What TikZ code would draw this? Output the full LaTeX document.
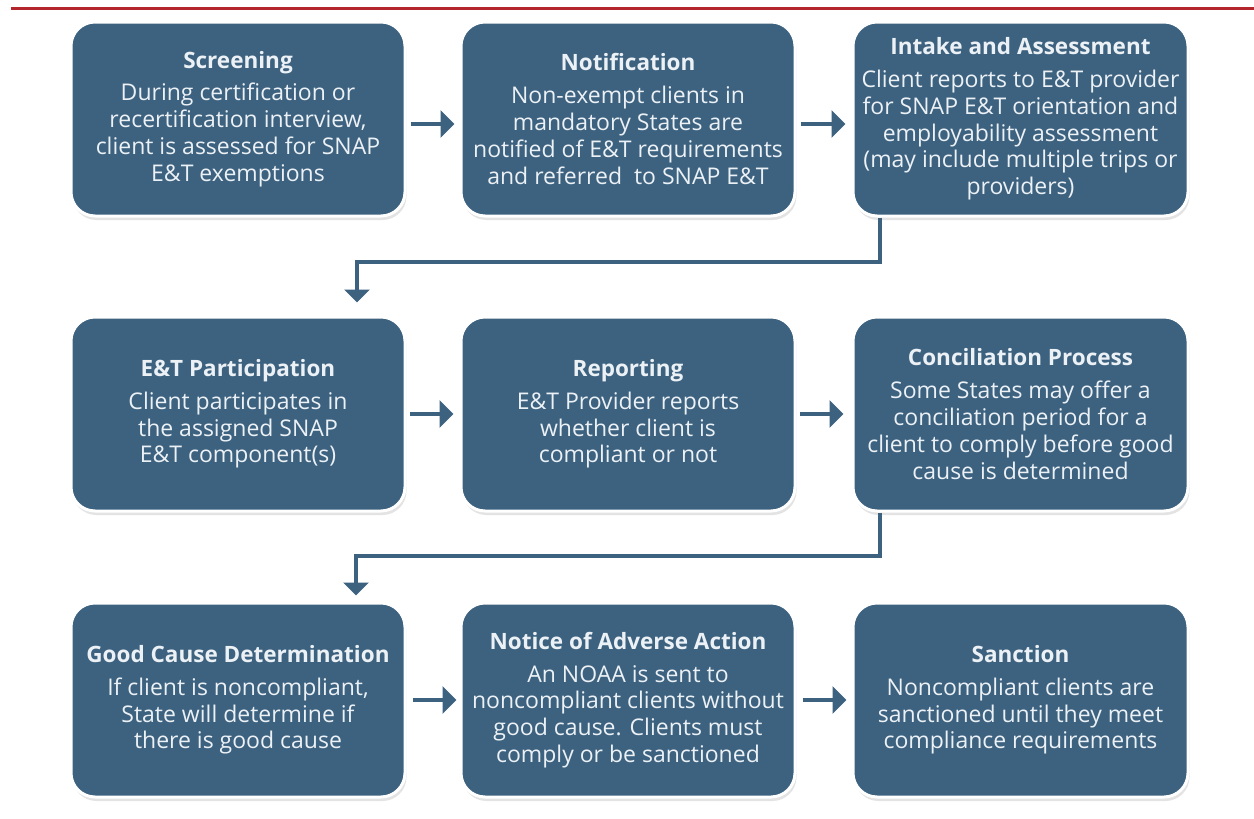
\documentclass[tikz,border=0pt]{standalone}
\usepackage{fontspec}
\setmainfont{Open Sans}
\usetikzlibrary{arrows.meta,shadows}
\definecolor{boxblue}{RGB}{61,98,128}
\definecolor{textwhite}{RGB}{236,241,245}
\definecolor{rulered}{RGB}{178,38,44}
\tikzset{
  stepbox/.style={rounded corners=24pt, fill=boxblue, draw=white, line width=3pt,
    minimum width=334pt, minimum height=194pt, align=center, text=textwhite,
    inner sep=0pt, font=\fontsize{23}{26.8}\selectfont,
    drop shadow={opacity=0.22, shadow xshift=1.5pt, shadow yshift=-4pt}},
  arr/.style={draw=boxblue, line width=4pt, -{Triangle[width=27pt,length=14pt]}},
  conn/.style={draw=boxblue, line width=3.5pt, -{Triangle[width=25pt,length=13pt]}}
}
\newcommand{\bxtitle}[1]{{\bfseries\fontsize{22.5}{26}\selectfont #1}\\[6pt]}
\begin{document}
\begin{tikzpicture}[x=1pt,y=-1pt]
\useasboundingbox (0,0) rectangle (1254,819);
\fill[white] (0,0) rectangle (1254,819);
\coordinate (rl) at (11,8);
\coordinate (rr) at (1254,8);
\draw[rulered, line width=3pt] (rl) -- (rr);
% row 1
\node[stepbox] (scr) at (238,119) {\bxtitle{Screening}During certification or\\recertification interview,\\client is assessed for SNAP\\E\&T exemptions};
\node[stepbox] (noti) at (628,119) {\bxtitle{Notification}Non-exempt clients in\\mandatory States are\\notified of E\&T requirements\\and referred\ \ to SNAP E\&T};
\node[stepbox, minimum width=335pt] (intk) at (1020.5,119) {\bxtitle{Intake and Assessment}Client reports to E\&T provider\\for SNAP E\&T orientation and\\employability assessment\\(may include multiple trips or\\providers)};
% row 2
\node[stepbox] (part) at (238,414) {\bxtitle{E\&T Participation}Client participates in\\the assigned SNAP\\E\&T component(s)};
\node[stepbox] (rep) at (628,414) {\bxtitle{Reporting}E\&T Provider reports\\whether client is\\compliant or not};
\node[stepbox, minimum width=335pt] (conc) at (1020.5,414) {\bxtitle{Conciliation Process}Some States may offer a\\conciliation period for a\\client to comply before good\\cause is determined};
% row 3
\node[stepbox] (good) at (238,700) {\bxtitle{Good Cause Determination}If client is noncompliant,\\State will determine if\\there is good cause};
\node[stepbox] (noaa) at (628,700) {\bxtitle{Notice of Adverse Action}An NOAA is sent to\\noncompliant clients without\\good cause. Clients must\\comply or be sanctioned};
\node[stepbox, minimum width=335pt] (sanc) at (1020.5,700) {\bxtitle{Sanction}Noncompliant clients are\\sanctioned until they meet\\compliance requirements};
% horizontal arrows
\draw[arr, shorten <=4pt, shorten >=5pt] ([yshift=-5pt]scr.east) -- ([yshift=-5pt]noti.west);
\draw[arr, shorten <=4pt, shorten >=6pt] ([yshift=-5pt]noti.east) -- ([yshift=-5pt]intk.west);
\draw[arr, shorten <=3pt, shorten >=6pt] (part.east) -- (rep.west);
\draw[arr, shorten <=3pt, shorten >=8pt] (rep.east) -- (conc.west);
\draw[arr, shorten <=6pt, shorten >=3pt] (good.east) -- (noaa.west);
\draw[arr, shorten <=6pt, shorten >=5pt] (noaa.east) -- (sanc.west);
% elbow connectors
\coordinate (e1a) at (880,262);
\coordinate (e1b) at (357,262);
\draw[conn, shorten >=13pt] (intk.south -| e1a) -- (e1a) -- (e1b) -- (e1b |- part.north);
\coordinate (e2a) at (880,556);
\coordinate (e2b) at (356,556);
\draw[conn, shorten >=6pt] (conc.south -| e2a) -- (e2a) -- (e2b) -- (e2b |- good.north);
\end{tikzpicture}
\end{document}
